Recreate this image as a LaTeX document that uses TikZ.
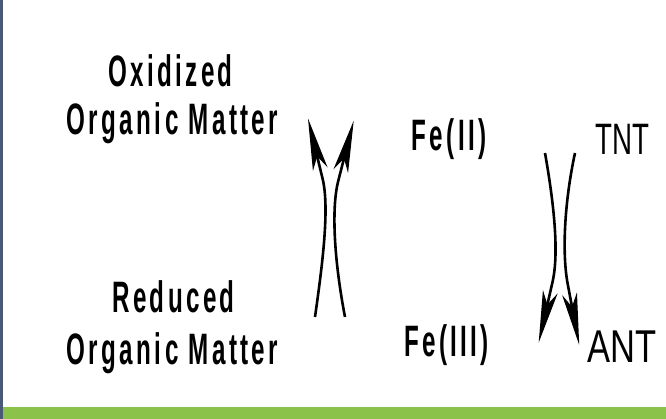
\documentclass[tikz,border=0pt]{standalone}
\usepackage{fontspec}
\usetikzlibrary{arrows.meta}
\newfontfamily\lblfont[LetterSpace=14]{Liberation Sans}
\newfontfamily\plainfont{Liberation Sans}
\definecolor{barblue}{RGB}{74,90,118}
\definecolor{bargreen}{RGB}{139,195,74}
\tikzset{
  cond/.style={anchor=base, inner sep=0pt, font=\fontsize{44}{44}\lblfont\bfseries, xscale=0.55},
  plainlbl/.style={anchor=base, inner sep=0pt, font=\fontsize{44}{44}\plainfont},
  curvearrow/.style={line width=2.6pt, arrows={-Stealth[length=52pt,width=15pt,inset=13pt]}}
}
\begin{document}
\begin{tikzpicture}[x=1pt,y=1pt]
\useasboundingbox (0,0) rectangle (666,419);
\fill[white] (0,0) rectangle (666,419);
\fill[barblue] (0,0) rectangle (3,419);
\fill[bargreen] (3,0) rectangle (666,12);
\node[cond] (oxi) at (170.5,332) {Oxidized};
\node[cond] (om1) at (172.5,284) {Organic Matter};
\node[cond] (red) at (173.5,106) {Reduced};
\node[cond] (om2) at (172.5,54) {Organic Matter};
\node[cond] (fe2) at (449,268) {Fe(II)};
\node[cond] (fe3) at (446.5,62) {Fe(III)};
\node[plainlbl, xscale=0.63] (tnt) at (622.5,264) {TNT};
\node[plainlbl, xscale=0.75, font=\fontsize{46}{46}\plainfont] (ant) at (622,56) {ANT};
% left pair (upward)
\coordinate (a1s) at (315,102);
\coordinate (a1b) at (322.6,240.2);
\coordinate (a1e) at (308,300.5);
\coordinate (a2s) at (345,102);
\coordinate (a2b) at (338.3,238.3);
\coordinate (a2e) at (353.7,298.3);
% right pair (downward)
\coordinate (b1s) at (545,266);
\coordinate (b1b) at (552.5,136.9);
\coordinate (b1e) at (538.7,76.4);
\coordinate (b2s) at (575,266);
\coordinate (b2b) at (567.7,135);
\coordinate (b2e) at (579.2,74);
\draw[curvearrow] (a1s) .. controls (322.5,155) and (329.7,211) .. (a1b) -- (a1e);
\draw[curvearrow] (a2s) .. controls (334.8,155) and (330.8,209.3) .. (a2b) -- (a2e);
\draw[curvearrow] (b1s) .. controls (554,215) and (559.2,166.2) .. (b1b) -- (b1e);
\draw[curvearrow] (b2s) .. controls (564,215) and (562.1,164.5) .. (b2b) -- (b2e);
\end{tikzpicture}
\end{document}
